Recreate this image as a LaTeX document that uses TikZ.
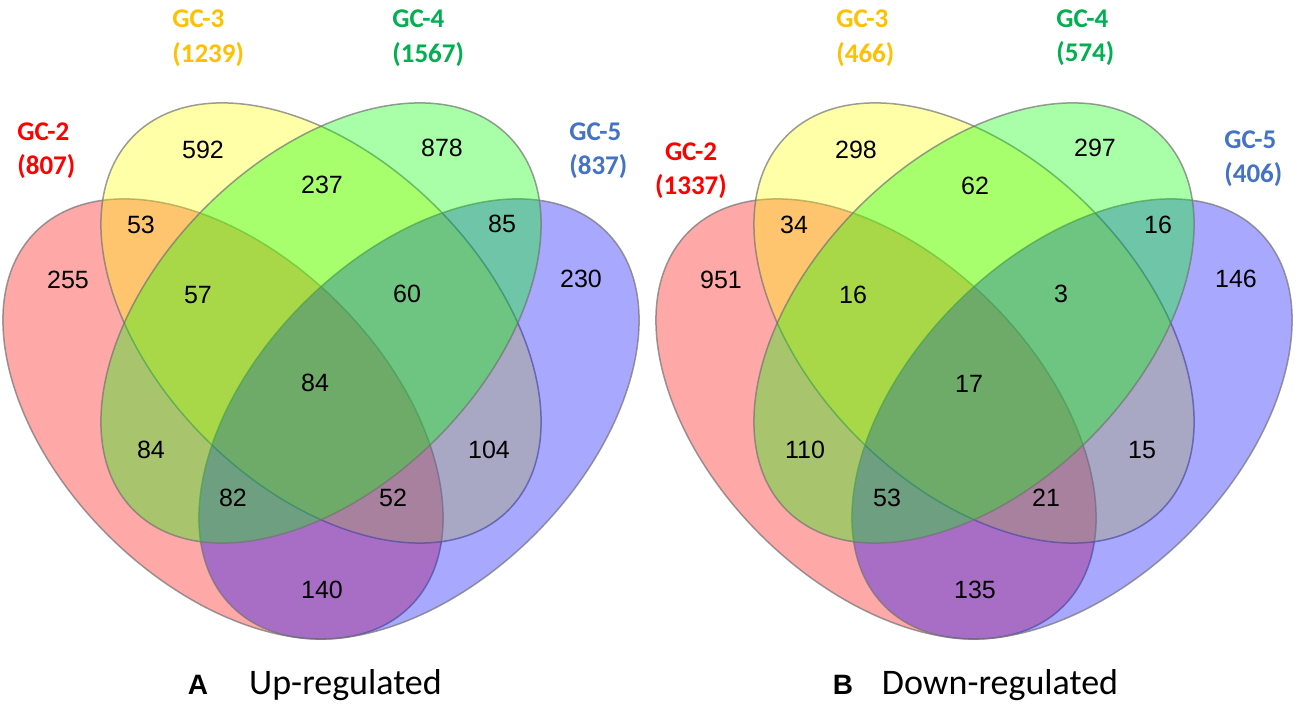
\documentclass[tikz,border=0pt]{standalone}
\usepackage{fontspec}
\setmainfont{Carlito}
\newfontfamily\numfont{Liberation Sans}
\usepackage{xcolor}
\usepackage{tikz}

\definecolor{gcred}{RGB}{255,0,0}
\definecolor{gcyellow}{RGB}{255,192,0}
\definecolor{gcgreen}{RGB}{0,176,80}
\definecolor{gcblue}{RGB}{68,114,196}
\definecolor{vennred}{RGB}{255,0,0}
\definecolor{vennyellow}{RGB}{255,255,0}
\definecolor{venngreen}{RGB}{0,255,0}
\definecolor{vennblue}{RGB}{0,0,255}

\tikzset{
  gcset/.style={draw=black!55, draw opacity=0.7, line width=0.75pt, fill opacity=0.34},
  num/.style={font=\numfont\fontsize{12.5}{14}\selectfont, inner sep=0pt},
  gclab/.style={font=\bfseries\fontsize{13.5}{16}\selectfont, inner sep=0pt},
  panelname/.style={font=\fontsize{18}{22}\selectfont, inner sep=0pt},
  panelkey/.style={font=\numfont\bfseries\fontsize{14}{16}\selectfont, inner sep=0pt}
}

\begin{document}
\begin{tikzpicture}[x=0.5pt, y=0.5pt]
\useasboundingbox (0,0) rectangle (1299,705);
\fill[white] (0,0) rectangle (1299,705);

% panel A
\draw[gcset, fill=vennred] (223,286) ellipse [x radius=132.4pt, y radius=81.75pt, rotate=-45];
\draw[gcset, fill=vennyellow] (321,382) ellipse [x radius=132.4pt, y radius=81.75pt, rotate=-45];
\draw[gcset, fill=vennblue] (419,286) ellipse [x radius=132.4pt, y radius=81.75pt, rotate=45];
\draw[gcset, fill=venngreen] (321,382) ellipse [x radius=132.4pt, y radius=81.75pt, rotate=45];

\node[gclab, text=gcred, anchor=west] (a2) at (17,573) {GC-2};
\node[gclab, text=gcred, anchor=west] (a2n) at (17,538) {(807)};
\node[gclab, text=gcyellow, anchor=west] (a3) at (172,686) {GC-3};
\node[gclab, text=gcyellow, anchor=west] (a3n) at (172,650) {(1239)};
\node[gclab, text=gcgreen, anchor=west] (a4) at (392,686) {GC-4};
\node[gclab, text=gcgreen, anchor=west] (a4n) at (392,650) {(1567)};
\node[gclab, text=gcblue, anchor=west] (a5) at (569,573) {GC-5};
\node[gclab, text=gcblue, anchor=west] (a5n) at (569,538) {(837)};

\node[num] (a255) at (68,425) {255};
\node[num] (a53) at (141,480) {53};
\node[num] (a592) at (203,555) {592};
\node[num] (a237) at (322,520) {237};
\node[num] (a878) at (442,557) {878};
\node[num] (a85) at (502,481) {85};
\node[num] (a230) at (581,426) {230};
\node[num] (a57) at (198,410) {57};
\node[num] (a60) at (407,411) {60};
\node[num] (a84c) at (315,322) {84};
\node[num] (a84l) at (151,255) {84};
\node[num] (a104) at (489,255) {104};
\node[num] (a82) at (233,207) {82};
\node[num] (a52) at (393,207) {52};
\node[num] (a140) at (322,115) {140};

\node[panelkey] (akey) at (198,20) {A};
\node[panelname] (aname) at (345.5,20) {Up-regulated};

% panel B
\draw[gcset, fill=vennred] (876,286) ellipse [x radius=132.4pt, y radius=81.75pt, rotate=-45];
\draw[gcset, fill=vennyellow] (974,382) ellipse [x radius=132.4pt, y radius=81.75pt, rotate=-45];
\draw[gcset, fill=vennblue] (1072,286) ellipse [x radius=132.4pt, y radius=81.75pt, rotate=45];
\draw[gcset, fill=venngreen] (974,382) ellipse [x radius=132.4pt, y radius=81.75pt, rotate=45];

\node[gclab, text=gcred] (b2) at (691,553) {GC-2};
\node[gclab, text=gcred] (b2n) at (691,518) {(1337)};
\node[gclab, text=gcyellow, anchor=west] (b3) at (836,686) {GC-3};
\node[gclab, text=gcyellow, anchor=west] (b3n) at (836,650) {(466)};
\node[gclab, text=gcgreen, anchor=west] (b4) at (1056,686) {GC-4};
\node[gclab, text=gcgreen, anchor=west] (b4n) at (1056,651) {(574)};
\node[gclab, text=gcblue, anchor=west] (b5) at (1224,565) {GC-5};
\node[gclab, text=gcblue, anchor=west] (b5n) at (1224,530) {(406)};

\node[num] (b951) at (721,425) {951};
\node[num] (b34) at (794,480) {34};
\node[num] (b298) at (856,555) {298};
\node[num] (b62) at (975,519) {62};
\node[num] (b297) at (1095,557) {297};
\node[num] (b16r) at (1158,480) {16};
\node[num] (b146) at (1236,426) {146};
\node[num] (b16l) at (853,410) {16};
\node[num] (b3c) at (1061,411) {3};
\node[num] (b17) at (969,321) {17};
\node[num] (b110) at (805,255) {110};
\node[num] (b15) at (1142,255) {15};
\node[num] (b53) at (887,207) {53};
\node[num] (b21) at (1046,207) {21};
\node[num] (b135) at (975,115) {135};

\node[panelkey] (bkey) at (843,20) {B};
\node[panelname] (bname) at (1000,20) {Down-regulated};
\end{tikzpicture}
\end{document}
